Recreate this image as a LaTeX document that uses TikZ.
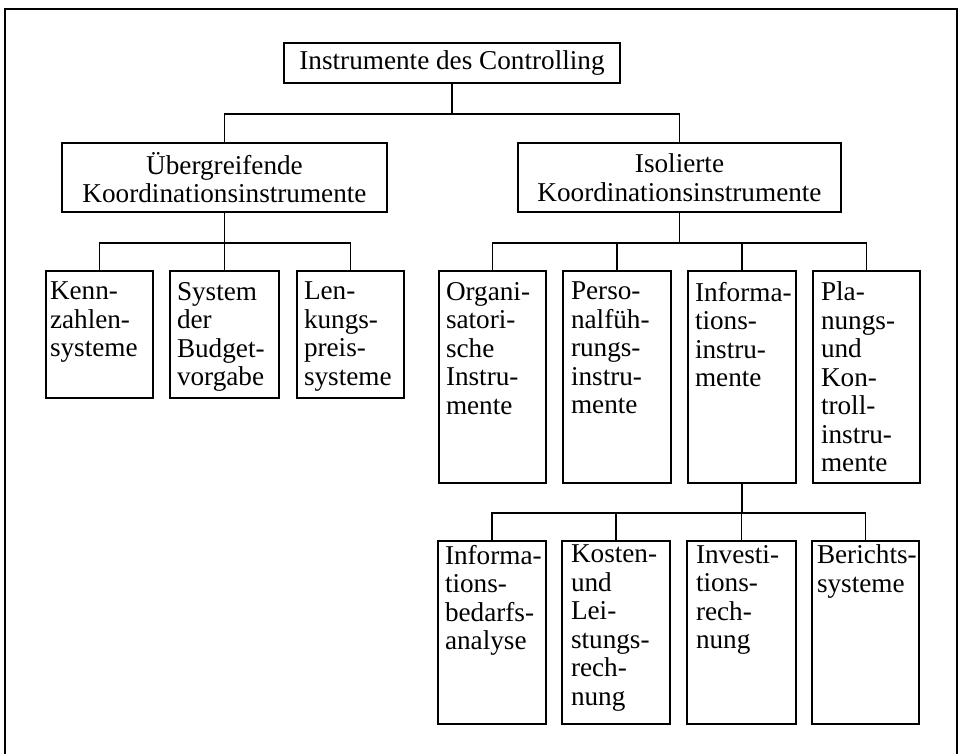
\documentclass[tikz,border=0pt]{standalone}
\usepackage{fontspec}
\setmainfont{Liberation Serif}
\newcommand\diafs{\fontsize{13.6pt}{14.25pt}\selectfont}
\begin{document}
\begin{tikzpicture}[x=0.5pt,y=-0.5pt,
  ln/.style={line width=0.8pt},
  cell/.style={draw, line width=0.8pt, inner sep=0pt, outer sep=0pt},
  head/.style={cell, align=center, font=\diafs},
  txt/.style={anchor=north west, inner sep=0pt, outer sep=0pt, align=left, font=\diafs}]
\useasboundingbox (0,0) rectangle (961,754);
% frame
\draw[ln] (5,754) -- (5,9) -- (957,9) -- (957,754);
% level 0 and 1
\node[head, minimum width=168pt, minimum height=20pt] (top) at (452,63) {Instrumente des Controlling};
\node[head, minimum width=162.5pt, minimum height=34.5pt] (uber) at (224.5,177.5) {Übergreifende\\Koordinationsinstrumente};
\node[head, minimum width=161.5pt, minimum height=34.5pt] (iso) at (679.5,177.5) {Isolierte\\Koordinationsinstrumente};
% level 2 left
\node[cell, minimum width=53.5pt, minimum height=63.5pt] (kenn) at (99.5,334.5) {};
\node[cell, minimum width=54.5pt, minimum height=63.5pt] (sys) at (224.5,334.5) {};
\node[cell, minimum width=53.5pt, minimum height=63.5pt] (len) at (350.5,334.5) {};
% level 2 right
\node[cell, minimum width=53.5pt, minimum height=106pt] (org) at (492.5,377) {};
\node[cell, minimum width=54pt, minimum height=106pt] (pers) at (617,377) {};
\node[cell, minimum width=54pt, minimum height=106pt] (info) at (742,377) {};
\node[cell, minimum width=53.5pt, minimum height=106pt] (plan) at (866.5,377) {};
% level 3
\node[cell, minimum width=54pt, minimum height=91.5pt] (ibed) at (492,632.5) {};
\node[cell, minimum width=54pt, minimum height=91.5pt] (kost) at (616,632.5) {};
\node[cell, minimum width=54.5pt, minimum height=91.5pt] (inv) at (741.5,632.5) {};
\node[cell, minimum width=53.5pt, minimum height=91.5pt] (ber) at (865.5,632.5) {};
% texts
\node[txt] (kennT) at ([shift={(4,11)}]kenn.north west) {Kenn-\\zahlen-\\systeme};
\node[txt] (sysT) at ([shift={(7,11)}]sys.north west) {System\\der\\Budget-\\vorgabe};
\node[txt] (lenT) at ([shift={(7,11)}]len.north west) {Len-\\kungs-\\preis-\\systeme};
\node[txt] (orgT) at ([shift={(7,11)}]org.north west) {Organi-\\satori-\\sche\\Instru-\\mente};
\node[txt] (persT) at ([shift={(8,11)}]pers.north west) {Perso-\\nalfüh-\\rungs-\\instru-\\mente};
\node[txt] (infoT) at ([shift={(7,11)}]info.north west) {Informa-\\tions-\\instru-\\mente};
\node[txt] (planT) at ([shift={(8,11)}]plan.north west) {Pla-\\nungs-\\und\\Kon-\\troll-\\instru-\\mente};
\node[txt] (ibedT) at ([shift={(7,4)}]ibed.north west) {Informa-\\tions-\\bedarfs-\\analyse};
\node[txt] (kostT) at ([shift={(9,4)}]kost.north west) {Kosten-\\und\\Lei-\\stungs-\\rech-\\nung};
\node[txt] (invT) at ([shift={(9,4)}]inv.north west) {Investi-\\tions-\\rech-\\nung};
\node[txt] (berT) at ([shift={(5,4)}]ber.north west) {Berichts-\\systeme};
% connectors
\coordinate (b1) at (452,114);
\coordinate (b2) at (224.5,243);
\coordinate (b3) at (679.5,243);
\coordinate (b4) at (742,513);
\draw[ln] (top.south) -- (b1);
\draw[ln] (uber.north) |- (b1) -| (iso.north);
\draw[ln] (uber.south) -- (b2);
\draw[ln] (kenn.north) |- (b2) -| (len.north);
\draw[ln] (sys.north) -- (sys.north |- b2);
\draw[ln] (iso.south) -- (b3);
\draw[ln] (org.north) |- (b3) -| (plan.north);
\draw[ln] (pers.north) -- (pers.north |- b3);
\draw[ln] (info.north) -- (info.north |- b3);
\draw[ln] (info.south) -- (b4);
\draw[ln] (ibed.north) |- (b4) -| (ber.north);
\draw[ln] (kost.north) -- (kost.north |- b4);
\draw[ln] (inv.north) -- (inv.north |- b4);
\end{tikzpicture}
\end{document}
